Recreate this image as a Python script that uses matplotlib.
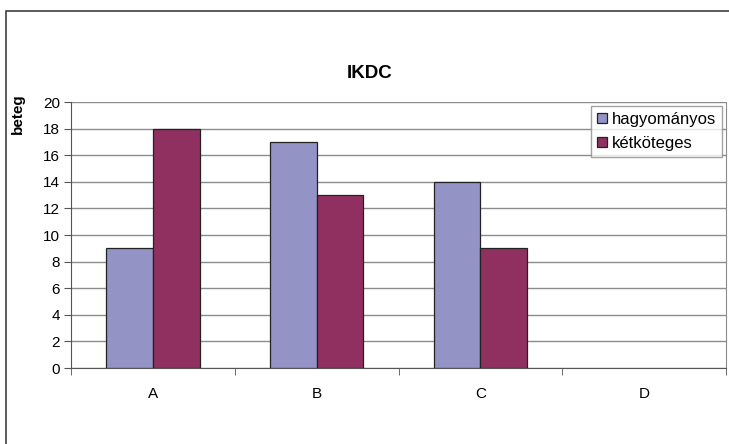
import matplotlib
matplotlib.use("Agg")
import matplotlib.pyplot as plt
import matplotlib.patches as mpatches
import numpy as np

plt.rcParams['font.family'] = ['Liberation Sans', 'DejaVu Sans']

categories = ["A", "B", "C", "D"]
hagyomanyos = [9, 17, 14, 0]
ketkoteges = [18, 13, 9, 0]
yticks = list(range(0, 21, 2))

W, H = 729, 444
fig = plt.figure(figsize=(W / 100, H / 100), dpi=100)

# outer chart frame (cut off at right and bottom like the reference)
frame = mpatches.Rectangle((6 / W, -0.1), 1.2, 1 - 11 / H + 0.1,
                           transform=fig.transFigure, fill=False,
                           edgecolor='#404040', linewidth=1.2)
fig.patches.append(frame)

ax = fig.add_axes([71 / W, 1 - 368 / H, (726 - 71) / W, (368 - 102) / H])

x = np.arange(len(categories))
w = 0.285
# no outline on empty (zero) bars
edge1 = ['#222222' if v else 'none' for v in hagyomanyos]
edge2 = ['#222222' if v else 'none' for v in ketkoteges]
ax.bar(x - w / 2, hagyomanyos, w, color='#9393c6', edgecolor=edge1,
       linewidth=0.9, label='hagyományos', zorder=3)
ax.bar(x + w / 2, ketkoteges, w, color='#8f3060', edgecolor=edge2,
       linewidth=0.9, label='kétköteges', zorder=3)

ax.set_xlim(-0.5, len(categories) - 0.5)
ax.set_ylim(0, 20)
ax.set_yticks(yticks)
ax.set_yticklabels([str(t) for t in yticks], fontsize=11)
ax.yaxis.grid(True, color='#8c8c8c', linewidth=1)
ax.set_axisbelow(True)

ax.set_xticks(x)
ax.set_xticklabels(categories, fontsize=11)
ax.tick_params(axis='x', length=0, pad=14)
ax.set_xticks(np.arange(-0.5, len(categories)), minor=True)
ax.tick_params(axis='x', which='minor', length=5, color='#555555')
ax.tick_params(axis='y', length=5, color='#555555', pad=3)

ax.spines['top'].set_visible(False)
ax.spines['right'].set_color('#8c8c8c')
ax.spines['left'].set_color('#555555')
ax.spines['bottom'].set_color('#555555')

fig.text(370 / W, 1 - 73 / H, "IKDC", ha='center', va='center',
         fontsize=13.5, fontweight='bold')
fig.text(18 / W, 1 - 93 / H, "beteg", ha='center', va='top', rotation=90,
         fontsize=11, fontweight='bold')

leg = ax.legend(loc='upper right', bbox_to_anchor=(0.994, 0.985), fontsize=12,
                frameon=True, fancybox=False, edgecolor='#8c8c8c',
                handlelength=0.6, handleheight=0.6, handletextpad=0.3,
                borderpad=0.35, labelspacing=0.55, borderaxespad=0)
leg.get_frame().set_linewidth(1)

fig.savefig("out.png", dpi=100)
